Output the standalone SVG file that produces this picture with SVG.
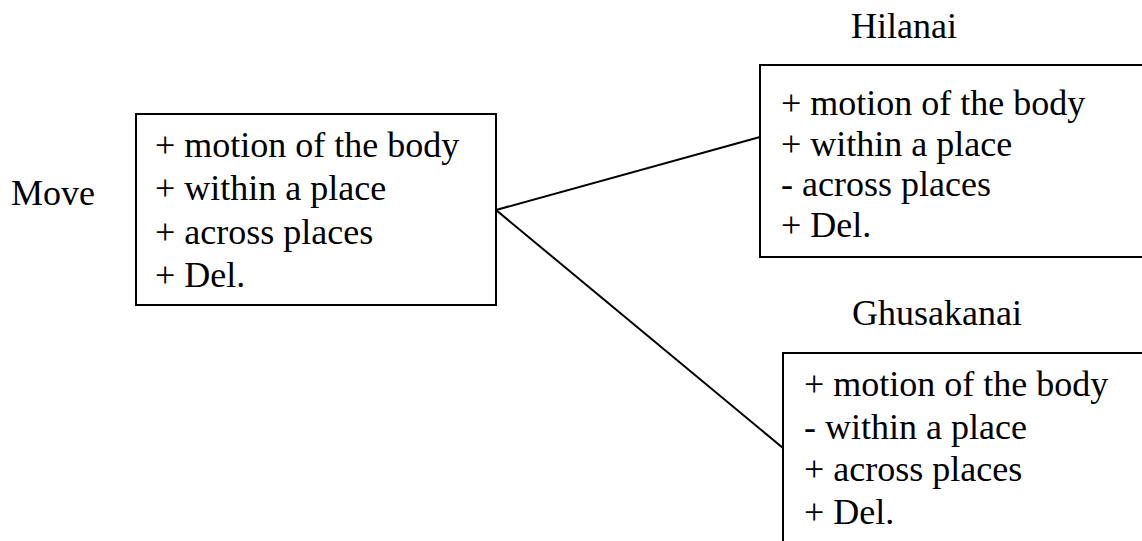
<svg xmlns="http://www.w3.org/2000/svg" width="1142" height="541" viewBox="0 0 1142 541">
<style>
text{font-family:'Liberation Serif','Times New Roman',serif;font-size:36px;fill:#000}
.box{fill:#fff;stroke:#000;stroke-width:2}
.edge{stroke:#000;stroke-width:2;fill:none}
</style>
<rect width="1142" height="541" fill="#fff"/>
<g id="connectors">
<line class="edge" x1="496" y1="210" x2="760" y2="137"/>
<line class="edge" x1="496" y1="210" x2="783" y2="448"/>
</g>
<g id="move">
<text x="11" y="205">Move</text>
<rect class="box" x="136" y="114" width="360" height="191"/>
<text x="155" y="157">+ motion of the body</text>
<text x="155" y="200">+ within a place</text>
<text x="155" y="244">+ across places</text>
<text x="155" y="287">+ Del.</text>
</g>
<g id="hilanai">
<text x="851" y="38">Hilanai</text>
<rect class="box" x="760" y="65" width="400" height="192"/>
<text x="781" y="115">+ motion of the body</text>
<text x="781" y="156">+ within a place</text>
<text x="781" y="196">- across places</text>
<text x="781" y="237">+ Del.</text>
</g>
<g id="ghusakanai">
<text x="852" y="325">Ghusakanai</text>
<rect class="box" x="783" y="353" width="400" height="220"/>
<text x="804" y="396">+ motion of the body</text>
<text x="804" y="439">- within a place</text>
<text x="804" y="481">+ across places</text>
<text x="804" y="524">+ Del.</text>
</g>
</svg>
